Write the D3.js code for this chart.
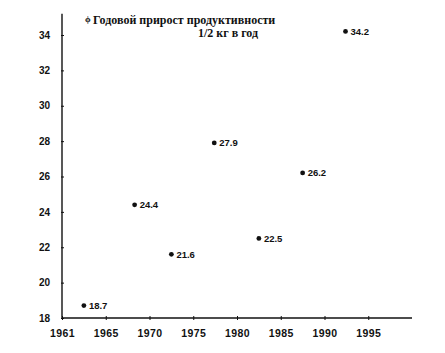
<!DOCTYPE html>
<html>
<head>
<meta charset="utf-8">
<script src="https://cdn.jsdelivr.net/npm/d3@7"></script>
<style>
  body { margin: 0; background: #fff; }
  svg { display: block; }
</style>
</head>
<body>
<script>
// Data
var years = [1962.5, 1968.3, 1972.5, 1977.4, 1982.5, 1987.5, 1992.4];
var gains = [18.7, 24.4, 21.6, 27.9, 22.5, 26.2, 34.2];
var labels = ["18.7", "24.4", "21.6", "27.9", "22.5", "26.2", "34.2"];
var xTicks = [1960, 1965, 1970, 1975, 1980, 1985, 1990, 1995];
var xTickLabels = ["1961", "1965", "1970", "1975", "1980", "1985", "1990", "1995"];
var yTicks = [18, 20, 22, 24, 26, 28, 30, 32, 34];

drawChart();

function drawChart(){

  var w = 445;
  var h = 353;

  var svg = d3.select("body")
              .append("svg")
              .attr("width", w)
              .attr("height", h);

  // Scales
  var xScale = d3.scaleLinear()
                .domain([1960, 2000])
                .range([62, 412]);

  var yScale = d3.scaleLinear()
                .domain([18, 34])
                .range([318, 35]);

  // Axes
  var xAxis = svg.append("g")
    .attr("transform", "translate(0, 318)")
    .call(d3.axisBottom(xScale)
      .tickValues(xTicks)
      .tickFormat((d, i) => xTickLabels[i])
      .tickSizeOuter(0)
      .tickSizeInner(3)
      .tickPadding(9));

  var yAxis = svg.append("g")
    .attr("transform", "translate(62, 0)")
    .call(d3.axisLeft(yScale)
      .tickValues(yTicks)
      .tickSizeOuter(0)
      .tickSizeInner(3)
      .tickPadding(9));

  // x axis line runs a bit past the last tick, y axis above the top tick
  xAxis.select(".domain").remove();
  yAxis.select(".domain").remove();

  svg.append("line")
    .attr("x1", xScale(1960)).attr("x2", xScale(2000))
    .attr("y1", 318).attr("y2", 318)
    .attr("stroke", "#111").attr("stroke-width", 1.4);

  svg.append("line")
    .attr("x1", 62).attr("x2", 62)
    .attr("y1", yScale(35.2)).attr("y2", 318)
    .attr("stroke", "#111").attr("stroke-width", 1.4);

  // ticks cross the axes
  xAxis.selectAll(".tick line").attr("y1", -2).attr("y2", 2).attr("stroke", "#111");
  yAxis.selectAll(".tick line").attr("x1", -1).attr("x2", 2).attr("stroke", "#111");

  svg.selectAll(".tick text")
    .attr("font-family", "'Liberation Sans', Arial, sans-serif")
    .attr("font-weight", "bold")
    .attr("font-size", 10)
    .attr("fill", "#111");

  xAxis.selectAll(".tick text")
    .attr("font-size", 10.5)
    .attr("letter-spacing", 0.4);

  // Points
  var pts = years.map((y, i) => ({year: y, value: gains[i], label: labels[i]}));

  svg.selectAll("circle")
    .data(pts)
    .enter()
    .append("circle")
    .attr("cx", d => xScale(d.year))
    .attr("cy", d => yScale(d.value))
    .attr("r", 2.4)
    .attr("fill", "#111");

  svg.selectAll(".plabel")
    .data(pts)
    .enter()
    .append("text")
    .attr("class", "plabel")
    .attr("x", d => xScale(d.year) + 5)
    .attr("y", d => yScale(d.value) + 3.5)
    .attr("font-family", "'Liberation Sans', Arial, sans-serif")
    .attr("font-weight", "bold")
    .attr("font-size", 9.5)
    .attr("fill", "#111")
    .text(d => d.label);

  // Title
  svg.append("text")
    .attr("x", 85)
    .attr("y", 22)
    .attr("font-family", "'Liberation Serif', 'Times New Roman', serif")
    .attr("font-weight", "bold")
    .attr("font-size", 9)
    .attr("fill", "#111")
    .text("ϕ");

  svg.append("text")
    .attr("x", 93)
    .attr("y", 24)
    .attr("font-family", "'Liberation Serif', 'Times New Roman', serif")
    .attr("font-weight", "bold")
    .attr("font-size", 12)
    .attr("fill", "#111")
    .text("Годовой прирост продуктивности");

  svg.append("text")
    .attr("x", 228)
    .attr("y", 37)
    .attr("text-anchor", "middle")
    .attr("font-family", "'Liberation Serif', 'Times New Roman', serif")
    .attr("font-weight", "bold")
    .attr("font-size", 12)
    .attr("fill", "#111")
    .text("1/2 кг в год");

};
</script>
</body>
</html>
